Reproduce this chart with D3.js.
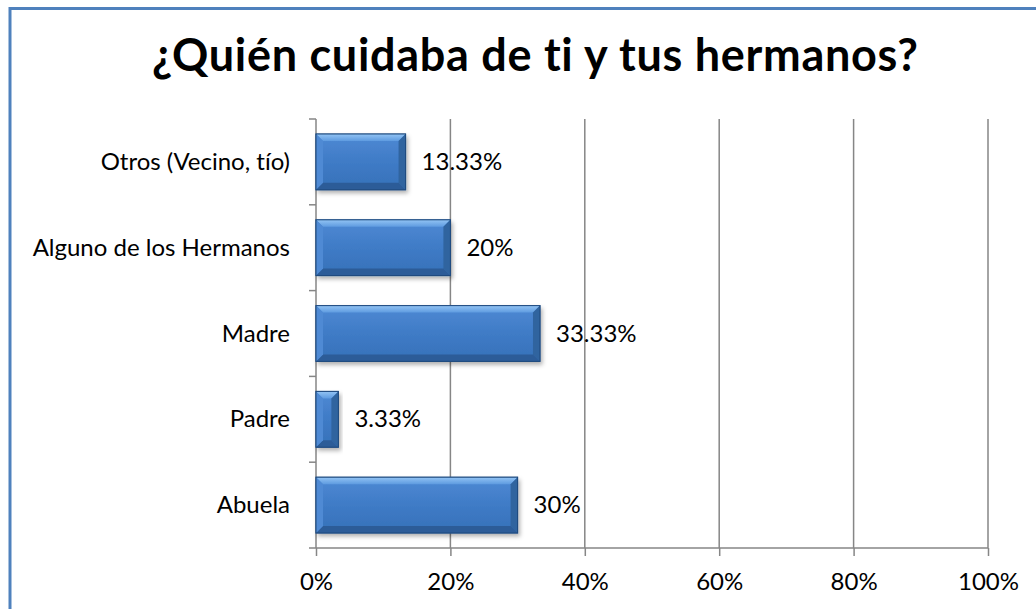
<!DOCTYPE html>
<html><head><meta charset="utf-8">
<script src="https://cdn.jsdelivr.net/npm/d3@7"></script>
<style>body{margin:0;background:#fff}svg{display:block}text{font-family:Lato,"Open Sans",sans-serif;font-variant-ligatures:none}</style>
</head><body><svg id="c" width="1036" height="609"></svg>
<script>
const categories = ["Otros (Vecino, tío)", "Alguno de los Hermanos", "Madre", "Padre", "Abuela"];
const values = [13.33, 20, 33.33, 3.33, 30];
const valueLabels = ["13.33%", "20%", "33.33%", "3.33%", "30%"];
const xTicks = [0, 20, 40, 60, 80, 100];
const title = "¿Quién cuidaba de ti y tus hermanos?";

const svg = d3.select("#c");
svg.append("rect").attr("x",10).attr("y",8.5).attr("width",1040).attr("height",620)
  .attr("fill","#fff").attr("stroke","#4f81bd").attr("stroke-width",3);

const m = {l:316, r:988, t:119, b:548};
const x = d3.scaleLinear().domain([0,100]).range([m.l, m.r]);
const y = d3.scaleBand().domain(categories).range([m.t, m.b]).paddingInner(0.35).paddingOuter(0.175);
const yb = d3.scaleBand().domain(categories).range([m.t, m.b]);
const FS = 24;

const defs = svg.append("defs");
const g1 = defs.append("linearGradient").attr("id","bar").attr("x1",0).attr("y1",0).attr("x2",0).attr("y2",1);
[[0,"#4f8ad4"],[0.5,"#3f7bc6"],[1,"#3671b9"]].forEach(s=>g1.append("stop").attr("offset",s[0]).attr("stop-color",s[1]));
const g2 = defs.append("linearGradient").attr("id","bev").attr("x1",0).attr("y1",0).attr("x2",0).attr("y2",1);
[[0,"#93c4f4"],[1,"#5e9be0"]].forEach(s=>g2.append("stop").attr("offset",s[0]).attr("stop-color",s[1]));
const f = defs.append("filter").attr("id","sh").attr("x","-10%").attr("y","-10%").attr("width","130%").attr("height","150%");
f.append("feDropShadow").attr("dx",2).attr("dy",3).attr("stdDeviation",2).attr("flood-color","#000").attr("flood-opacity",0.3);

// grid
svg.append("g").selectAll("line").data(xTicks.slice(1)).join("line")
  .attr("x1",d=>x(d)).attr("x2",d=>x(d)).attr("y1",m.t).attr("y2",m.b)
  .attr("stroke","#868686").attr("stroke-width",1.5);

// axes
const xa = svg.append("g").attr("transform",`translate(0,${m.b})`)
  .call(d3.axisBottom(x).tickValues(xTicks).tickFormat(d=>d+"%").tickSize(8).tickPadding(17));
xa.select(".domain").attr("stroke","#868686").attr("stroke-width",1.5).attr("d",`M${m.l},0H${m.r}`);
xa.selectAll(".tick line").attr("stroke","#868686").attr("stroke-width",1.5);
xa.selectAll(".tick text").attr("font-size",FS).attr("fill","#000").style("font-family","Lato");

const ya = svg.append("g").attr("transform",`translate(${m.l},0)`);
ya.append("line").attr("x1",0).attr("x2",0).attr("y1",m.t).attr("y2",m.b).attr("stroke","#868686").attr("stroke-width",1.5);
const bounds = categories.map(c=>yb(c)).concat([m.b]);
ya.selectAll("line.t").data(bounds).join("line").attr("class","t")
  .attr("x1",-7).attr("x2",0).attr("y1",d=>d).attr("y2",d=>d).attr("stroke","#868686").attr("stroke-width",1.5);
ya.selectAll("text").data(categories).join("text")
  .attr("x",-26).attr("y",d=>yb(d)+yb.bandwidth()/2+8)
  .attr("text-anchor","end").attr("font-size",FS).attr("fill","#000").text(d=>d);

// bars
const bars = svg.append("g").selectAll("g").data(categories).join("g");
bars.each(function(c,i){
  const g = d3.select(this);
  const x0 = x(0), x1 = x(values[i]), y0 = y(c), h = y.bandwidth();
  const w = x1 - x0, b = Math.min(7, w/2);
  g.append("rect").attr("x",x0).attr("y",y0).attr("width",w).attr("height",h)
    .attr("fill","url(#bar)").attr("stroke","#2b5a92").attr("stroke-width",1).attr("filter","url(#sh)");
  g.append("path").attr("d",`M${x0},${y0}H${x1}L${x1-b},${y0+b}H${x0+b}Z`).attr("fill","url(#bev)");
  g.append("path").attr("d",`M${x1},${y0}V${y0+h}L${x1-b},${y0+h-b}V${y0+b}Z`).attr("fill","#30649f");
  g.append("path").attr("d",`M${x0},${y0+h}H${x1}L${x1-b},${y0+h-b}H${x0+b}Z`).attr("fill","#2c5c98");
  g.append("path").attr("d",`M${x0},${y0}V${y0+h}L${x0+b},${y0+h-b}V${y0+b}Z`).attr("fill","#4f8ad4");
  g.append("rect").attr("x",x0).attr("y",y0).attr("width",w).attr("height",h)
    .attr("fill","none").attr("stroke","#1f4a7e").attr("stroke-width",1);
  g.append("text").attr("x",x1+16).attr("y",y0+h/2+8)
    .attr("font-size",FS).attr("fill","#000").text(valueLabels[i]);
});

svg.append("text").attr("x",535).attr("y",71).attr("text-anchor","middle")
  .attr("font-size",45).attr("font-weight","bold").attr("fill","#000")
  .attr("textLength",766).attr("lengthAdjust","spacing").text(title);
</script></body></html>
